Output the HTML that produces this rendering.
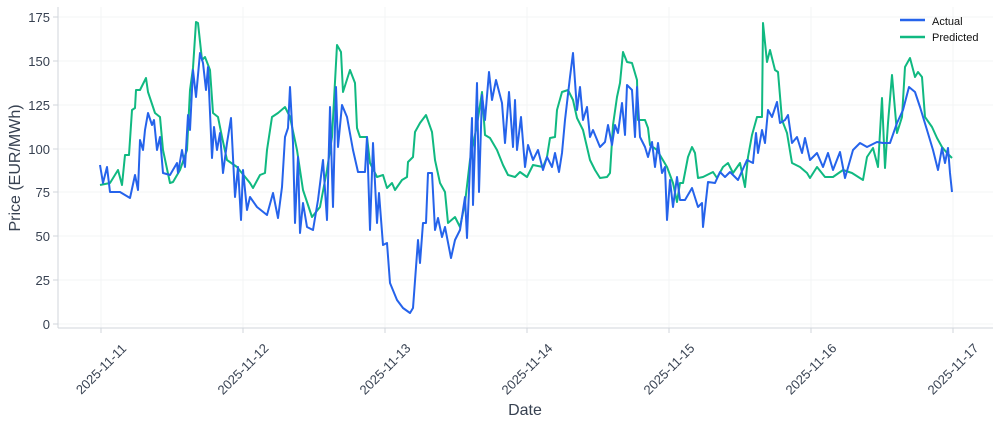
<!DOCTYPE html>
<html><head><meta charset="utf-8"><style>
body{margin:0;background:#fff;}
svg{display:block;font-family:"Liberation Sans","DejaVu Sans",sans-serif;}
</style></head><body>
<svg width="1000" height="424" viewBox="0 0 1000 424" xmlns="http://www.w3.org/2000/svg">
<g stroke="#f3f4f6" stroke-width="1">
<line x1="58" y1="324" x2="993" y2="324"/><line x1="58" y1="280" x2="993" y2="280"/><line x1="58" y1="236" x2="993" y2="236"/><line x1="58" y1="192" x2="993" y2="192"/><line x1="58" y1="149" x2="993" y2="149"/><line x1="58" y1="105" x2="993" y2="105"/><line x1="58" y1="61" x2="993" y2="61"/><line x1="58" y1="17" x2="993" y2="17"/>
<line x1="101" y1="7" x2="101" y2="328"/><line x1="243" y1="7" x2="243" y2="328"/><line x1="385" y1="7" x2="385" y2="328"/><line x1="527" y1="7" x2="527" y2="328"/><line x1="669" y1="7" x2="669" y2="328"/><line x1="811" y1="7" x2="811" y2="328"/><line x1="953" y1="7" x2="953" y2="328"/>
</g>
<g stroke="#d1d5db" stroke-width="1">
<line x1="58" y1="7" x2="58" y2="328"/><line x1="58" y1="328" x2="993" y2="328"/>
<line x1="101" y1="328" x2="101" y2="333"/><line x1="243" y1="328" x2="243" y2="333"/><line x1="385" y1="328" x2="385" y2="333"/><line x1="527" y1="328" x2="527" y2="333"/><line x1="669" y1="328" x2="669" y2="333"/><line x1="811" y1="328" x2="811" y2="333"/><line x1="953" y1="328" x2="953" y2="333"/>
<line x1="53" y1="324" x2="58" y2="324"/><line x1="53" y1="280" x2="58" y2="280"/><line x1="53" y1="236" x2="58" y2="236"/><line x1="53" y1="192" x2="58" y2="192"/><line x1="53" y1="149" x2="58" y2="149"/><line x1="53" y1="105" x2="58" y2="105"/><line x1="53" y1="61" x2="58" y2="61"/><line x1="53" y1="17" x2="58" y2="17"/>
</g>
<g font-size="13" fill="#374151" text-anchor="end">
<text x="50" y="329">0</text><text x="50" y="285">25</text><text x="50" y="241">50</text><text x="50" y="197">75</text><text x="50" y="154">100</text><text x="50" y="110">125</text><text x="50" y="66">150</text><text x="50" y="22">175</text>
</g>
<g font-size="13" fill="#374151" text-anchor="middle">
<text transform="translate(101,369) rotate(-45)" dy="0.35em">2025-11-11</text>
<text transform="translate(243,369) rotate(-45)" dy="0.35em">2025-11-12</text>
<text transform="translate(385,369) rotate(-45)" dy="0.35em">2025-11-13</text>
<text transform="translate(527,369) rotate(-45)" dy="0.35em">2025-11-14</text>
<text transform="translate(669,369) rotate(-45)" dy="0.35em">2025-11-15</text>
<text transform="translate(811,369) rotate(-45)" dy="0.35em">2025-11-16</text>
<text transform="translate(953,369) rotate(-45)" dy="0.35em">2025-11-17</text>
</g>
<text x="525" y="415" font-size="16" fill="#374151" text-anchor="middle">Date</text>
<text transform="translate(20,168) rotate(-90)" font-size="16" fill="#374151" text-anchor="middle">Price (EUR/MWh)</text>
<polyline fill="none" stroke="#10b981" stroke-width="2" stroke-linejoin="round" points="100,185 110,183 118,170 122,185 125,155 129,155 132,110 135,108 136,90 140,90 146,78 148,92 155,113 160,117 163,150 170,183 173,182 180,170 187,150 190,90 193,68 196,22 198,23 202,60 205,57 210,70 213,113 218,117 222,137 227,160 237,167 250,183 253,188 260,175 265,173 267,150 272,117 278,113 285,107 290,117 297,150 303,190 312,217 320,207 327,170 332,137 337,45 341,52 343,92 350,70 355,83 357,128 360,137 367,137 370,163 377,177 383,175 387,188 392,183 395,190 402,180 407,177 408,162 413,157 415,132 420,123 426,115 432,132 435,160 440,183 445,192 448,223 455,217 460,227 465,203 470,160 477,125 482,92 485,135 490,138 497,150 503,165 508,175 515,177 520,172 527,177 533,165 543,167 547,157 550,138 555,137 557,110 562,92 568,90 573,100 577,118 583,130 590,160 595,170 600,178 607,177 610,173 613,125 617,97 620,83 623,52 627,62 632,63 637,80 638,120 645,120 648,128 650,145 657,150 667,167 673,183 677,202 680,183 683,183 688,157 692,147 695,153 698,178 703,177 713,172 717,178 723,167 728,163 733,173 740,163 745,187 748,157 752,135 757,117 762,117 763,23 767,62 770,50 775,70 778,72 782,120 787,133 792,163 800,167 807,173 810,178 817,167 825,177 833,177 843,170 852,173 863,180 867,157 873,148 878,167 882,98 885,168 888,123 892,75 897,133 902,117 905,67 910,58 915,77 918,72 922,77 925,117 932,127 937,138 942,147 947,153 952,158"/>
<polyline fill="none" stroke="#2563eb" stroke-width="2" stroke-linejoin="round" points="100,165 103,183 107,167 110,192 120,192 130,198 135,175 138,190 140,140 143,150 145,130 148,113 152,125 154,120 157,150 160,137 163,173 170,175 177,163 178,173 182,150 185,167 188,115 190,130 193,70 196,97 200,53 203,63 206,90 208,67 212,158 214,127 217,150 220,133 223,173 227,143 231,118 235,197 238,167 241,220 243,170 247,210 250,197 257,207 267,215 273,193 278,218 282,187 285,137 288,128 290,87 293,143 295,223 298,157 300,233 303,203 307,227 313,230 318,200 323,160 327,220 330,107 333,207 336,87 338,147 342,105 347,117 353,150 358,172 365,172 367,137 370,230 373,143 377,223 379,193 383,245 387,243 390,283 397,300 403,308 410,313 413,308 418,240 420,263 423,223 426,223 428,173 432,173 435,230 438,218 442,237 445,227 451,258 455,240 460,230 465,197 467,238 472,118 473,205 477,83 479,192 482,95 485,120 489,72 492,100 496,80 502,103 505,143 509,92 513,147 515,100 517,150 521,117 525,167 528,145 533,160 538,150 543,170 547,157 552,167 555,153 559,172 562,153 565,120 570,77 573,53 577,110 580,87 583,120 587,107 590,137 593,130 600,147 605,142 608,125 612,145 615,125 618,133 622,103 625,135 627,85 632,90 635,137 637,87 640,137 645,147 648,157 652,142 655,167 658,143 662,173 665,167 667,220 670,180 673,207 677,177 680,200 685,200 692,188 698,207 702,203 703,227 708,182 715,183 720,172 725,177 730,172 738,180 747,160 753,163 756,133 758,153 762,130 765,143 768,110 772,117 777,102 780,123 785,120 788,115 792,143 797,137 802,153 805,138 810,160 817,153 823,167 828,153 833,170 840,152 845,178 853,150 860,143 867,147 877,142 883,143 890,143 897,123 903,110 909,87 915,92 920,107 927,130 933,150 938,170 942,148 945,163 948,148 950,173 952,192"/>
<line x1="900" y1="20" x2="925" y2="20" stroke="#2563eb" stroke-width="2.5"/>
<line x1="900" y1="37" x2="925" y2="37" stroke="#10b981" stroke-width="2.5"/>
<text x="932" y="25" font-size="11" fill="#111">Actual</text>
<text x="932" y="41" font-size="11" fill="#111">Predicted</text>
</svg>
</body></html>
